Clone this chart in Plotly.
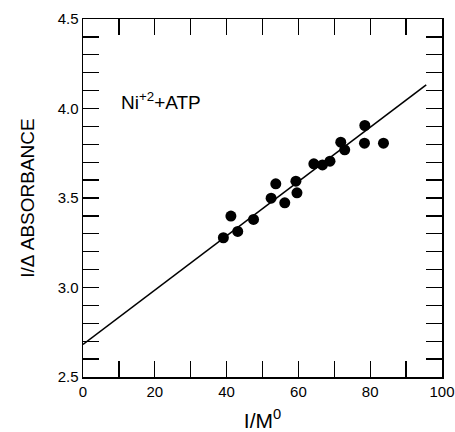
import plotly.graph_objects as go

# data
inv_conc = [39.1, 41.2, 43.1, 47.5, 52.4, 53.7, 56.2, 59.3, 59.6, 64.3, 66.7, 68.8, 71.8, 72.9, 78.4, 78.5, 83.7]
inv_abs = [3.278, 3.399, 3.313, 3.380, 3.499, 3.579, 3.473, 3.594, 3.529, 3.691, 3.685, 3.706, 3.812, 3.769, 3.806, 3.905, 3.806]

fit_x = [0, 95.6]
fit_y = [2.682, 4.132]

x_tickvals = [0, 20, 40, 60, 80, 100]
x_ticktext = ["0", "20", "40", "60", "80", "100"]
y_tickvals = [2.5, 3.0, 3.5, 4.0, 4.5]
y_ticktext = ["2.5", "3.0", "3.5", "4.0", "4.5"]

fig = go.Figure()
fig.add_trace(go.Scatter(x=fit_x, y=fit_y, mode="lines",
                         line=dict(color="black", width=1.6), showlegend=False))
fig.add_trace(go.Scatter(x=inv_conc, y=inv_abs, mode="markers",
                         marker=dict(color="black", size=11), showlegend=False))

fig.add_annotation(x=21.8, y=4.04, text="Ni<sup>+2</sup>+ATP", showarrow=False,
                   font=dict(size=19, color="black", family="Liberation Sans"))

axis_common = dict(showline=True, linecolor="black", linewidth=1.5, mirror="ticks",
                   ticks="inside", tickcolor="black", tickwidth=1.3, ticklen=16,
                   showgrid=False, zeroline=False, automargin=False,
                   ticklabeloverflow="allow",
                   tickfont=dict(size=15, color="black", family="Liberation Sans"))

fig.update_xaxes(range=[0, 100], tickmode="array", tickvals=x_tickvals, ticktext=x_ticktext,
                 minor=dict(dtick=10, tick0=0, ticks="inside", ticklen=16, tickcolor="black", tickwidth=1.3, showgrid=False),
                 title=dict(text="I/M<sup>0</sup>", font=dict(size=21, color="black", family="Liberation Sans"), standoff=15),
                 **axis_common)
fig.update_yaxes(range=[2.5, 4.5], tickmode="array", tickvals=y_tickvals, ticktext=y_ticktext,
                 minor=dict(dtick=0.1, tick0=2.5, ticks="inside", ticklen=16, tickcolor="black", tickwidth=1.3, showgrid=False),
                 title=dict(text="I/Δ ABSORBANCE", font=dict(size=19, color="black", family="Liberation Sans"), standoff=18),
                 **axis_common)

fig.update_layout(width=455, height=432, margin=dict(l=83, r=13, t=19, b=55, autoexpand=False),
                  plot_bgcolor="white", paper_bgcolor="white")

fig.write_html("out.html", config={"displayModeBar": False, "staticPlot": True},
               post_script="document.body.style.margin='0';document.body.style.overflow='hidden';")
